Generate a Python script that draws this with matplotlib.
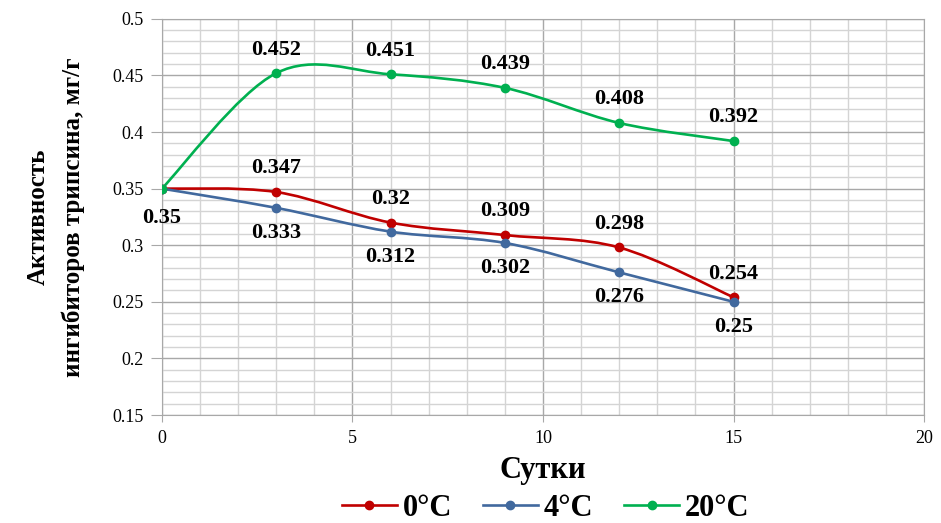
import numpy as np
import matplotlib
matplotlib.use('Agg')
import matplotlib.pyplot as plt
from matplotlib.path import Path
from matplotlib.patches import PathPatch
from matplotlib.lines import Line2D

# data
days = [0, 3, 6, 9, 12, 15]
t0 = [0.35, 0.347, 0.32, 0.309, 0.298, 0.254]
t4 = [0.35, 0.333, 0.312, 0.302, 0.276, 0.25]
t20 = [0.35, 0.452, 0.451, 0.439, 0.408, 0.392]
names = ['0°C', '4°C', '20°C']
colors = ['#C00000', '#41699E', '#00B050']

plt.rcParams['font.family'] = ['Liberation Serif', 'DejaVu Serif']


def smooth_path(x, y):
    # excel-like smoothed line as cubic bezier segments
    p = np.column_stack([x, y]).astype(float)
    pts = np.vstack([p[0], p, p[-1]])
    verts = [p[0]]
    codes = [Path.MOVETO]
    for i in range(1, len(pts) - 2):
        c1 = pts[i] + (pts[i + 1] - pts[i - 1]) / 6
        c2 = pts[i + 1] - (pts[i + 2] - pts[i]) / 6
        verts += [c1, c2, pts[i + 1]]
        codes += [Path.CURVE4] * 3
    return Path(verts, codes)


fig = plt.figure(figsize=(9.41, 5.23), dpi=100)
ax = fig.add_axes([0.172, 0.2065, 0.81, 0.7575])

series = [t0, t4, t20]
for vals, c in zip(series, colors):
    ax.add_patch(PathPatch(smooth_path(days, vals), fc='none', ec=c, lw=1.9, zorder=3))
    ax.plot(days, vals, ls='none', marker='o', ms=6, color=c, zorder=4)

# data labels
lab = dict(textcoords='offset points', ha='center', va='center', fontsize=16, fontweight='bold')
for x, v in zip(days[1:], t0[1:]):
    ax.annotate(str(v), (x, v), xytext=(0, 17), **lab)
for x, v in zip(days, t4):
    ax.annotate(str(v), (x, v), xytext=(0, -18 if x else -21), **lab)
for x, v in zip(days[1:], t20[1:]):
    ax.annotate(str(v), (x, v), xytext=(0, 17), **lab)

ax.set_xlim(0, 20)
ax.set_ylim(0.15, 0.5)
ax.set_xticks(np.arange(0, 21, 5))
ax.set_xticks(np.arange(0, 21, 1), minor=True)
ax.set_yticks(np.arange(0.15, 0.501, 0.05))
ax.set_yticks(np.arange(0.15, 0.501, 0.01), minor=True)
ax.set_yticklabels(['0.15', '0.2', '0.25', '0.3', '0.35', '0.4', '0.45', '0.5'])
ax.grid(which='minor', color='#d4d4d4', lw=1.0)
ax.grid(which='major', color='#a8a8a8', lw=1.0)
ax.set_axisbelow(True)
ax.tick_params(which='minor', length=0)
ax.tick_params(axis='y', which='major', length=8, color='#a8a8a8', labelsize=13, pad=5)
ax.tick_params(axis='x', which='major', length=5, color='#a8a8a8', labelsize=13, pad=6)
for s in ax.spines.values():
    s.set_color('#a8a8a8')

ax.set_xlabel('Сутки', fontsize=22, fontweight='bold', labelpad=6)
ax.set_ylabel('Активность\nингибиторов трипсина, мг/г', fontsize=18, fontweight='bold',
              labelpad=20, linespacing=1.6)

handles = [Line2D([], [], color=c, lw=1.9, marker='o', ms=6) for c in colors]
fig.legend(handles, names, loc='center', bbox_to_anchor=(0.58, 0.028), ncol=3,
           frameon=False, prop={'size': 22, 'weight': 'bold'}, handlelength=1.8,
           handletextpad=0.2, columnspacing=1.0)

fig.savefig('out.png', dpi=100)
